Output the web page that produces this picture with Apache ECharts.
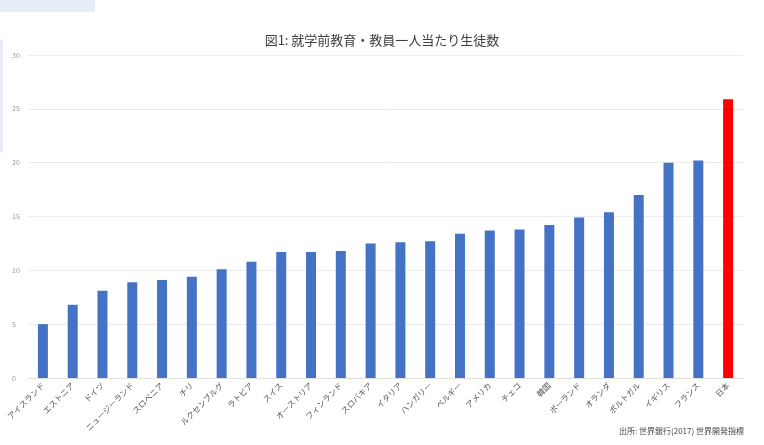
<!DOCTYPE html>
<html><head><meta charset="utf-8">
<script src="https://cdn.jsdelivr.net/npm/echarts@6/dist/echarts.min.js"></script>
<style>html,body{margin:0;padding:0;background:#fff}#c{width:764px;height:445px}</style>
</head><body><div id="c"></div>
<script>
var categories = ['アイスランド','エストニア','ドイツ','ニュージーランド','スロベニア','チリ','ルクセンブルグ','ラトビア','スイス','オーストリア','フィンランド','スロバキア','イタリア','ハンガリー','ベルギー','アメリカ','チェコ','韓国','ポーランド','オランダ','ポルトガル','イギリス','フランス','日本'];
var values = [5.0,6.8,8.1,8.9,9.1,9.4,10.1,10.8,11.7,11.7,11.8,12.5,12.6,12.7,13.4,13.7,13.8,14.2,14.9,15.4,17.0,20.0,20.2,25.9];
var highlight = '日本';
var yTicks = [0,5,10,15,20,25,30];
var titleText = '図1: 就学前教育・教員一人当たり生徒数';
var sourceText = '出所: 世界銀行(2017) 世界開発指標';

var font = '"Noto Sans CJK JP", "Noto Sans", sans-serif';
var chart = echarts.init(document.getElementById('c'));
chart.setOption({
  animation: false,
  textStyle: {fontFamily: font},
  title: {text: titleText, left: 'center', top: 29,
    textStyle: {fontFamily: font, fontSize: 13, fontWeight: 'normal', color: '#404040'}},
  graphic: [
    {type: 'rect', left: 0, top: 0, shape: {width: 95, height: 12}, style: {fill: '#e6edf8'}},
    {type: 'rect', left: 0, top: 40, shape: {width: 3, height: 112}, style: {fill: '#e6edf8'}},
    {type: 'text', right: 20, top: 427, style: {text: sourceText, font: '8px ' + font, fill: '#444'}}
  ],
  grid: {left: 28, right: 21, top: 55, bottom: 67},
  xAxis: {type: 'category', data: categories,
    axisLine: {lineStyle: {color: '#e0e0e0'}}, axisTick: {show: false},
    axisLabel: {rotate: 45, interval: 0, fontSize: 8, color: '#555', margin: 6}},
  yAxis: {type: 'value', min: yTicks[0], max: yTicks[yTicks.length-1], interval: 5,
    axisLine: {show: false}, axisTick: {show: false},
    axisLabel: {fontSize: 7, color: '#999', margin: 16, align: 'left'},
    splitLine: {lineStyle: {color: '#ebebeb'}}},
  series: [{type: 'bar', barWidth: 10,
    data: values.map(function(v, i){
      return {value: v, itemStyle: {color: categories[i] === highlight ? '#ff0000' : '#4472c4'}};
    })}]
});
</script></body></html>
